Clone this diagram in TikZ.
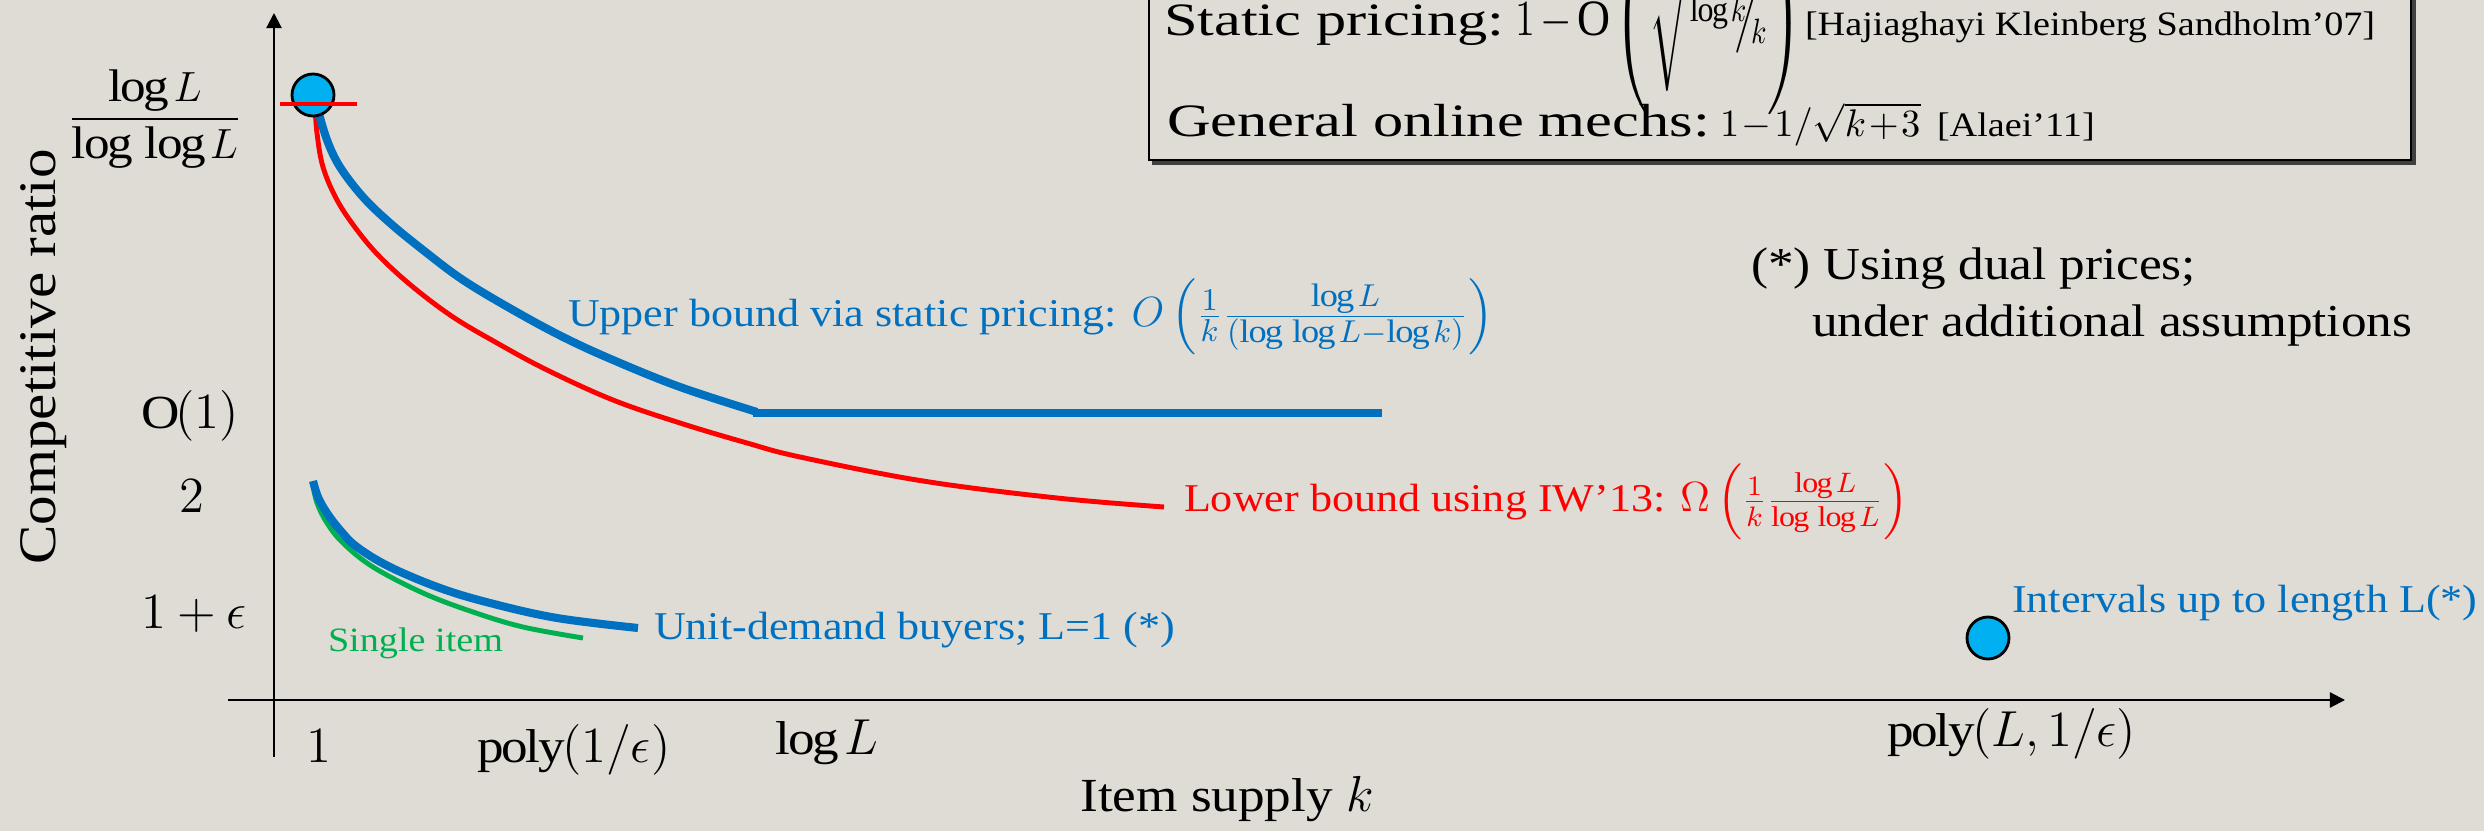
\documentclass[tikz,border=0pt]{standalone}
\usepackage{amsmath}
\usepackage{fontspec}
\setmainfont[FakeStretch=1.12]{Liberation Serif}
\newfontfamily\widefont[FakeStretch=1.3]{Liberation Serif}
\usetikzlibrary{arrows.meta}

\definecolor{bgmid}{RGB}{236,234,229}
\definecolor{bgside}{RGB}{223,220,213}
\definecolor{ubblue}{RGB}{0,112,192}
\definecolor{lbred}{RGB}{255,0,0}
\definecolor{sigreen}{RGB}{0,176,80}
\definecolor{dotcyan}{RGB}{0,176,240}

\newcommand{\sz}[1]{\fontsize{#1}{1.2\dimexpr #1pt\relax}\selectfont}

\begin{document}
\begin{tikzpicture}[x=0.01cm,y=-0.01cm,
  txt/.style={inner sep=0pt, outer sep=0pt, anchor=base west},
  tick/.style={inner sep=0pt, anchor=base, font=\sz{13.5}},
  curvelbl/.style={txt, font=\sz{11.2}},
  boxtxt/.style={txt, font=\widefont\sz{13.2}},
  cite/.style={txt, font=\sz{9.7}},
  axis/.style={line width=0.6pt, -{Triangle[length=4.3pt,width=4.3pt]}},
  ubcurve/.style={ubblue, line width=2.3pt},
  lbcurve/.style={lbred, line width=1.4pt},
  sicurve/.style={sigreen, line width=1.4pt},
  dot/.style={circle, minimum size=42*0.01cm, inner sep=0pt, fill=dotcyan, draw=black, line width=0.8pt},
  boxline/.style={line width=0.6pt, black}
]
\useasboundingbox (0,0) rectangle (2484,831);
\shade[left color=bgside, middle color=bgmid, right color=bgside] (0,0) rectangle (2484,831);

% axes
\coordinate (ybot) at (274,757);
\coordinate (ytop) at (274,13);
\coordinate (xleft) at (228,700);
\coordinate (xright) at (2345,700);
\draw[axis] (ybot) -- (ytop);
\draw[axis] (xleft) -- (xright);

% axis titles
\node[inner sep=0pt, anchor=base, rotate=90, font=\sz{15}] (ytitle) at (55,357) {Competitive ratio};
\node[inner sep=0pt, anchor=base, font=\sz{13.5}] (xtitle) at (1227,812) {Item supply $k$};

% y tick labels
\node[inner sep=0pt, font=\sz{13}] (yLL) at (155,119) {$\dfrac{\log L}{\log\,\log L}$};
\node[tick] (yO1) at (190,429) {$\mathrm{O}(1)$};
\node[tick] (y2) at (192,513) {$2$};
\node[tick] (yeps) at (194,629) {$1+\epsilon$};

% x tick labels
\node[tick] (x1) at (319,763) {$1$};
\node[tick] (xpe) at (574,763) {$\mathrm{poly}(1/\epsilon)$};
\node[tick] (xlogL) at (827,755) {$\log L$};
\node[tick] (xpLe) at (2012,747) {$\mathrm{poly}(L,1/\epsilon)$};

% curves for L = 1
\draw[sicurve] plot[smooth, tension=0.6] coordinates {(313,485) (317,503) (327,523) (343,543) (373,567) (423,593) (473,612) (523,627) (583,638)};
\draw[ubcurve] plot[smooth, tension=0.6] coordinates {(313,481) (318,497) (327,513) (340,530) (357,547) (390,567) (440,588) (490,603) (557,618) (638,628)};

% general L: bounds
\draw[lbcurve] plot[smooth, tension=0.6] coordinates {(315,105) (317,133) (323,167) (337,200) (357,230) (380,257) (413,287) (453,317) (497,343) (547,370) (613,400) (680,423) (747,443) (800,457) (923,481) (1057,498) (1164,507)};
\draw[ubcurve] plot[smooth, tension=0.6] coordinates {(318,110) (327,140) (340,167) (363,197) (390,223) (423,250) (463,280) (513,310) (563,337) (613,360) (680,387) (757,412)};
\draw[ubcurve] (753,413) -- (1382,413);

% point at k = 1
\node[dot] (topdot) at (313,95) {};
\draw[lbred, line width=1.4pt] (280,104) -- (357,104);

% point for intervals
\node[dot] (intdot) at (1988,638) {};

% curve labels
\node[curvelbl, text=ubblue] (ublbl) at (568,327) {Upper bound via static pricing: {\sz{13.2}$O\left(\frac{1}{k}\frac{\log L}{(\log\,\log L-\log k)}\right)$}};
\node[curvelbl, text=lbred] (lblbl) at (1184,512) {Lower bound using IW'13: {\sz{11.6}$\Omega\left(\frac{1}{k}\frac{\log L}{\log\,\log L}\right)$}};
\node[curvelbl, text=ubblue] (udlbl) at (654,640) {Unit-demand buyers; L=1 (*)};
\node[txt, font=\sz{9.7}, text=sigreen] (silbl) at (328,652) {Single item};
\node[curvelbl, text=ubblue] (intlbl) at (2012,613) {Intervals up to length L(*)};

% footnote
\node[txt, font=\sz{13}] (note1) at (1751,280) {(*) Using dual prices;};
\node[txt, font=\sz{13}] (note2) at (1812,337) {under additional assumptions};

% known results box
\draw[line width=1.2pt, black!75] (1152,163) -- (2414,163) -- (2414,-10);
\draw[boxline] (1149,-10) rectangle (2411,160);
\node[boxtxt] (res1) at (1164,36) {Static pricing:};
\node[txt, font=\sz{14.5}] (res1m) at (1515,36) {\scalebox{0.8}[1]{\medmuskip=2.5mu$1-\mathrm{O}\left(\sqrt{\rule[-0.9em]{0pt}{2.5em}{}^{\log k}\!\!\big/\!_{k}}\right)$}};
\node[cite] (res1c) at (1805,36) {[Hajiaghayi Kleinberg Sandholm'07]};
\node[boxtxt] (res2) at (1167,137) {General online mechs:};
\node[txt, font=\sz{11}] (res2m) at (1720,137) {\medmuskip=1.2mu$1-1/\sqrt{k+3}$};
\node[cite] (res2c) at (1937,137) {[Alaei'11]};
\end{tikzpicture}
\end{document}
